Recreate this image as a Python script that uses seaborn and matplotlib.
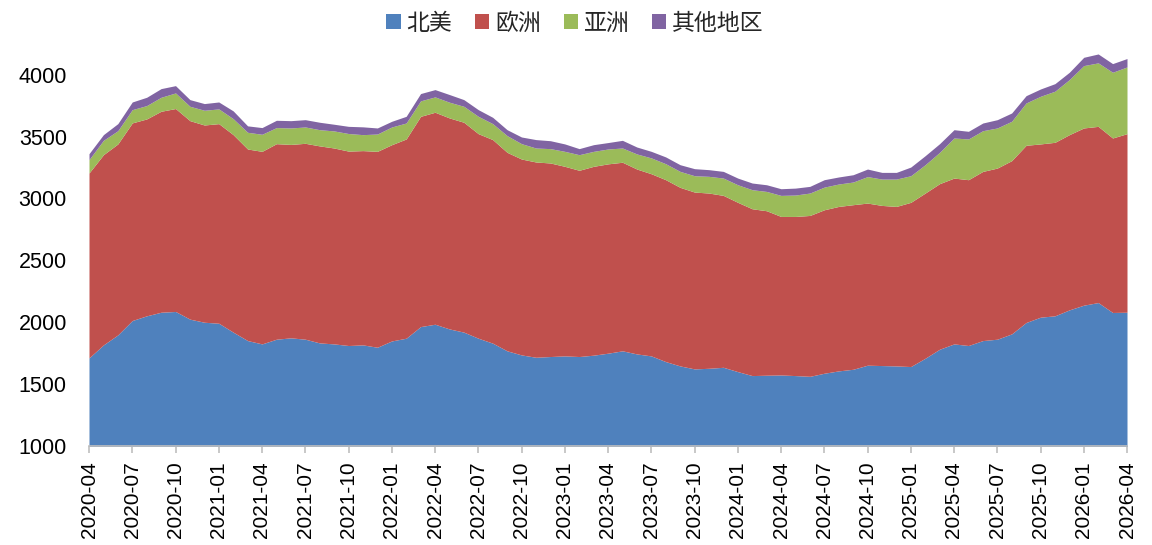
import numpy as np
import pandas as pd
import matplotlib
matplotlib.use('Agg')
import matplotlib.pyplot as plt
from matplotlib.patches import Patch
import seaborn as sns

# monthly, 2020-04 .. 2026-04
months = [p.strftime('%Y-%m') for p in pd.period_range('2020-04', '2026-04', freq='M')]

north_america = [1712, 1817, 1898, 2014, 2052, 2081, 2087, 2025, 2000, 1992,
                 1920, 1852, 1825, 1863, 1874, 1863, 1833, 1825, 1812, 1817,
                 1798, 1849, 1871, 1965, 1984, 1946, 1920, 1871, 1831, 1769,
                 1736, 1717, 1723, 1728, 1723, 1734, 1750, 1769, 1744, 1728,
                 1682, 1647, 1623, 1628, 1636, 1601, 1569, 1572, 1574, 1569,
                 1563, 1588, 1607, 1620, 1653, 1650, 1647, 1642, 1709, 1782,
                 1825, 1812, 1852, 1863, 1906, 1998, 2041, 2052, 2100, 2138,
                 2159, 2079, 2081]
europe = [1494, 1537, 1543, 1597, 1591, 1624, 1640, 1604, 1594, 1613,
          1596, 1548, 1556, 1580, 1563, 1583, 1592, 1583, 1571, 1570,
          1583, 1586, 1610, 1699, 1713, 1705, 1696, 1653, 1645, 1604,
          1583, 1578, 1564, 1532, 1505, 1526, 1530, 1524, 1494, 1472,
          1470, 1443, 1429, 1416, 1389, 1368, 1348, 1329, 1281, 1286,
          1300, 1321, 1329, 1330, 1310, 1294, 1289, 1327, 1335, 1338,
          1340, 1340, 1367, 1383, 1400, 1432, 1400, 1402, 1416, 1432,
          1424, 1410, 1443]
asia = [108, 116, 107, 107, 108, 113, 126, 116, 119, 119,
        129, 135, 138, 130, 133, 132, 131, 138, 142, 129,
        140, 143, 129, 125, 124, 127, 129, 140, 129, 135,
        124, 113, 116, 121, 126, 121, 120, 115, 122, 128,
        129, 129, 132, 135, 140, 142, 154, 156, 170, 173,
        181, 183, 181, 183, 214, 213, 221, 215, 229, 253,
        324, 329, 329, 324, 318, 342, 385, 413, 445, 504,
        513, 531, 539]
other = [48, 46, 57, 62, 67, 70, 59, 54, 54, 56,
         63, 52, 54, 59, 59, 59, 60, 54, 58, 63,
         49, 46, 54, 59, 59, 62, 54, 54, 51, 48,
         54, 68, 64, 60, 49, 54, 52, 62, 56, 53,
         55, 54, 57, 54, 54, 54, 54, 54, 54, 56,
         54, 60, 57, 59, 61, 54, 54, 70, 73, 70,
         67, 62, 62, 67, 67, 59, 59, 61, 59, 67,
         72, 70, 68]

regions = ['北美', '欧洲', '亚洲', '其他地区']
colors = ['#4F81BD', '#C0504D', '#9BBB59', '#8064A2']


def main():
    sns.set_theme(style='white')
    plt.rcParams['font.family'] = ['Liberation Sans', 'Noto Sans CJK SC', 'DejaVu Sans']

    df = pd.DataFrame({'month': months, '北美': north_america, '欧洲': europe,
                       '亚洲': asia, '其他地区': other})
    x = np.arange(len(df))

    fig = plt.figure(figsize=(11.52, 5.45), dpi=100)
    ax = fig.add_axes([89 / 1152, 1 - 446 / 545, (1127 - 89) / 1152, (446 - 50) / 545])
    ax.stackplot(x, [df[r] for r in regions], colors=colors, baseline='zero', linewidth=0)

    ax.set_xlim(0, len(df) - 1)
    ax.set_ylim(1000, 4200)
    ax.set_yticks(range(1000, 4001, 500))
    ax.set_xticks(x[::3])
    ax.set_xticklabels(df['month'][::3], rotation=90)

    for s in ['top', 'right', 'left']:
        ax.spines[s].set_visible(False)
    ax.spines['bottom'].set_color('#BFBFBF')
    ax.spines['bottom'].set_linewidth(1.2)
    ax.tick_params(axis='y', length=0, pad=16, labelsize=15.5, colors='black')
    ax.tick_params(axis='x', direction='out', length=5, width=1.2, color='#BFBFBF',
                   pad=6, labelsize=15, labelcolor='black', bottom=True)

    # legend across the top, square swatches
    handles = [Patch(facecolor=c, edgecolor='none') for c in colors]
    fig.legend(handles, regions, loc='center', bbox_to_anchor=(575 / 1152, 1 - 23 / 545),
               ncol=4, frameon=False, prop={'family': ['Noto Sans CJK SC'], 'size': 16.5},
               handlelength=0.62, handleheight=0.62, handletextpad=0.25, columnspacing=1.0)

    fig.savefig('out.png', dpi=100)


if __name__ == '__main__':
    main()
